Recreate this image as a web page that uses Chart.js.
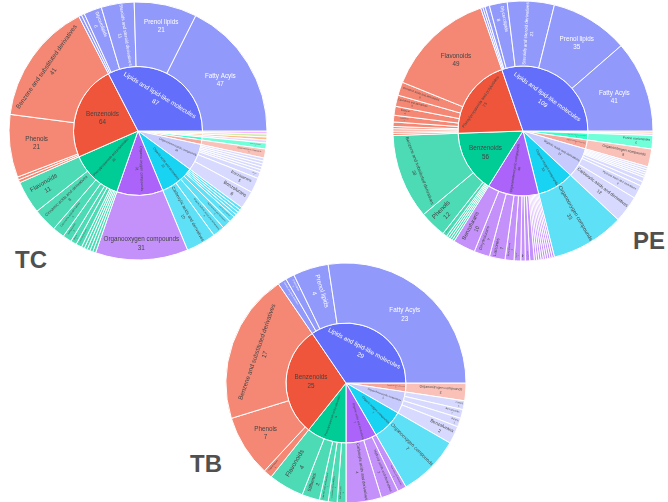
<!DOCTYPE html>
<html><head><meta charset="utf-8">
<script src="https://cdn.jsdelivr.net/npm/chart.js@4.4.1/dist/chart.umd.min.js"></script>
<style>
html,body{margin:0;padding:0;background:#fff;}
body{width:668px;height:502px;position:relative;overflow:hidden;}
.tag{position:absolute;font-family:"Liberation Sans",Arial,sans-serif;font-weight:bold;font-size:24px;line-height:24px;color:#505050;}
</style></head><body>
<div class="tag" style="left:15px;top:248px">TC</div>
<div class="tag" style="left:633px;top:229px">PE</div>
<div class="tag" style="left:190px;top:452px">TB</div>
<script>
// ---------------- DATA ----------------
const tcSuper = ['Lipids and lipid-like molecules','Benzenoids','Phenylpropanoids and polyketides','Organic oxygen compounds','Organic acids and derivatives','Organoheterocyclic compounds','Organic nitrogen compounds','Nucleosides, nucleotides, and analogues','Organosulfur compounds','Alkaloids and derivatives','Lignans, neolignans and related compounds','Organohalogen compounds'];
const tcSuperValues = [87,64,35,31,23,18,3,2,1,1,1,1];
const tcClasses = [
  ['Fatty Acyls','Prenol lipids','Steroids and steroid derivatives','Glycerolipids','Sphingolipids','Glycerophospholipids'],
  ['Benzene and substituted derivatives','Phenols','Naphthalenes','Anthracenes'],
  ['Flavonoids','Cinnamic acids and derivatives','Coumarins and derivatives','Isoflavonoids','Stilbenes','2-arylbenzofuran flavonoids','Linear 1,3-diarylpropanoids','Phenylpropanoic acids','Isocoumarins and derivatives','Cinnamaldehydes','Macrolides and analogues'],
  ['Organooxygen compounds'],
  ['Carboxylic acids and derivatives','Organic sulfuric acids and derivatives','Hydroxy acids and derivatives','Keto acids and derivatives','Organic carbonic acids and derivatives','Organic phosphoric acids and derivatives','Peptidomimetics','Organic sulfonic acids and derivatives'],
  ['Benzofurans','Benzopyrans','Furans','Pyrans','Lactones','Indoles and derivatives','Quinolines and derivatives','Dihydrofurans'],
  ['Organonitrogen compounds'],
  ['Purine nucleosides'],
  ['Thioethers'],
  ['Harmala alkaloids'],
  ['Aryltetralin lignans'],
  ['Halobenzenes']
];
const tcClassValues = [
  [47,21,11,6,1,1],
  [41,21,1,1],
  [11,8,4,3,2,2,1,1,1,1,1],
  [31],
  [10,4,3,2,1,1,1,1],
  [6,5,2,1,1,1,1,1],
  [3],[2],[1],[1],[1],[1]
];

const peSuper = ['Lipids and lipid-like molecules','Phenylpropanoids and polyketides','Benzenoids','Organoheterocyclic compounds','Organic oxygen compounds','Organic acids and derivatives','Organic nitrogen compounds','Nucleosides, nucleotides, and analogues','Organosulfur compounds','Alkaloids and derivatives'];
const peSuperValues = [109,73,56,46,33,27,8,6,1,1];
const peClasses = [
  ['Fatty Acyls','Prenol lipids','Steroids and steroid derivatives','Glycerolipids','Glycerophospholipids','Sphingolipids','Saccharolipids'],
  ['Flavonoids','Cinnamic acids and derivatives','Coumarins and derivatives','Stilbenes','Isoflavonoids','2-arylbenzofuran flavonoids','Linear 1,3-diarylpropanoids','Phenylpropanoic acids','Isocoumarins and derivatives','Macrolides and analogues'],
  ['Benzene and substituted derivatives','Phenols','Naphthalenes','Anthracenes','Phenol ethers','Fluorenes','Tetralins'],
  ['Benzofurans','Dihydrofurans','Lactones','Benzopyrans','Pyrans','Furans','Indoles and derivatives','Quinolines and derivatives','Oxanes','Piperidines','Pyridines and derivatives','Imidazopyrimidines','Tetrahydrofurans','Azoles','Pyrimidines and pyrimidine derivatives','Benzoxazines','Coumarans'],
  ['Organooxygen compounds'],
  ['Carboxylic acids and derivatives','Hydroxy acids and derivatives','Keto acids and derivatives','Organic sulfuric acids and derivatives','Organic carbonic acids and derivatives','Organic phosphoric acids and derivatives','Peptidomimetics','Organic sulfonic acids and derivatives','Organic thiophosphoric acids and derivatives'],
  ['Organonitrogen compounds'],
  ['Purine nucleosides'],
  ['Thioethers'],
  ['Harmala alkaloids']
];
const peClassValues = [
  [41,35,21,8,2,1,1],
  [49,6,5,4,3,2,1,1,1,1],
  [38,12,2,1,1,1,1],
  [10,7,7,4,3,2,2,2,1,1,1,1,1,1,1,1,1],
  [33],
  [12,6,2,2,1,1,1,1,1],
  [8],[6],[1],[1]
];

const tbSuper = ['Lipids and lipid-like molecules','Benzenoids','Phenylpropanoids and polyketides','Organic acids and derivatives','Organic oxygen compounds','Organoheterocyclic compounds','Organic nitrogen compounds'];
const tbSuperValues = [29,25,9,7,7,5,2];
const tbClasses = [
  ['Fatty Acyls','Prenol lipids','Glycerolipids','Steroids and steroid derivatives'],
  ['Benzene and substituted derivatives','Phenols','Naphthalenes'],
  ['Flavonoids','Stilbenes','Cinnamic acids and derivatives','Coumarins and derivatives','Isoflavonoids'],
  ['Carboxylic acids and derivatives','Hydroxy acids and derivatives','Keto acids and derivatives'],
  ['Organooxygen compounds'],
  ['Benzofurans','Pyrans','Benzodioxoles','Furans'],
  ['Organonitrogen compounds']
];
const tbClassValues = [
  [23,4,1,1],
  [17,7,1],
  [4,2,1,1,1],
  [4,2,1],
  [7],
  [2,1,1,1],
  [2]
];

// ---------------- STYLE ----------------
const tcColors = ['#636efa','#ef553b','#00cc96','#ab63fa','#19d3f3','#c6cafd','#f7a799','#33ffc9','#e2c1fd','#ffa15a','#b6e880','#ff97ff'];
const peColors = ['#636efa','#ef553b','#00cc96','#ab63fa','#19d3f3','#c6cafd','#f7a799','#33ffc9','#e2c1fd','#ffa15a'];
const tbColors = ['#636efa','#ef553b','#00cc96','#ab63fa','#19d3f3','#c6cafd','#f7a799'];

const FONT = '"Liberation Sans", Arial, sans-serif';
const BASE = 6.3;
const LH = 1.3;

function rgb(h){ h=h.replace('#',''); return [parseInt(h.slice(0,2),16),parseInt(h.slice(2,4),16),parseInt(h.slice(4,6),16)]; }
function leaf(h){ const c=rgb(h); return 'rgba('+c[0]+','+c[1]+','+c[2]+',0.7)'; }
function textCol(h){ const c=rgb(h); return (c[0]*299+c[1]*587+c[2]*114)/1000 >= 128 ? '#444444' : '#ffffff'; }

function fitText(ctx, p, lines) {
  ctx.font = BASE + 'px ' + FONT;
  const w = Math.max.apply(null, lines.map(l => ctx.measureText(l).width));
  const h = lines.length * BASE * LH;
  const span = p.endAngle - p.startAngle;
  if (!(span > 0)) return null;
  const mid = (p.startAngle + p.endAngle) / 2;
  const ri = p.innerRadius, ro = p.outerRadius;
  const up = a => { while (a > Math.PI/2) a -= Math.PI; while (a <= -Math.PI/2) a += Math.PI; return a; };
  const orients = [0, up(mid + Math.PI/2), up(mid)];
  const pad = 1.0;
  const full = span >= 2*Math.PI - 1e-6;
  function inside(px, py) {
    const dx = px - p.x, dy = py - p.y;
    const r = Math.hypot(dx, dy);
    if (r > ro - pad || r < ri + pad) return false;
    if (full) return true;
    let a = Math.atan2(dy, dx) - p.startAngle;
    a = ((a % (2*Math.PI)) + 2*Math.PI) % (2*Math.PI);
    const m = pad / Math.max(r, 0.001);
    return a >= m && a <= span - m;
  }
  function fits(cx, cy, rot, s) {
    const hw = w*s/2, hh = h*s/2;
    const c = Math.cos(rot), sn = Math.sin(rot);
    const N = 6;
    for (let k=0;k<=N;k++){
      const t = -1 + 2*k/N;
      const pts = [[t*hw,-hh],[t*hw,hh],[-hw,t*hh],[hw,t*hh]];
      for (const q of pts) {
        if (!inside(cx + q[0]*c - q[1]*sn, cy + q[0]*sn + q[1]*c)) return false;
      }
    }
    return true;
  }
  const results = [];
  for (let oi=0; oi<3; oi++) {
    const rot = orients[oi];
    let best = {s:0};
    const steps = 12;
    for (let k=1;k<steps;k++){
      const rc = ri + (ro-ri)*k/steps;
      const px = p.x + rc*Math.cos(mid), py = p.y + rc*Math.sin(mid);
      if (!fits(px,py,rot,0.01)) continue;
      let lo=0.01, hi=3;
      for (let it=0; it<14; it++){ const m=(lo+hi)/2; if (fits(px,py,rot,m)) lo=m; else hi=m; }
      if (lo > best.s + 1e-4) best = {s:lo, px:px, py:py, rot:rot};
    }
    results.push(best);
  }
  let pick;
  if (results[0].s >= 1) pick = results[0];
  else pick = results.reduce((a,b)=> b.s > a.s ? b : a);
  if (!pick || pick.s <= 0) return null;
  return {px:pick.px, py:pick.py, rot:pick.rot, size: BASE*Math.min(pick.s,1)};
}

const sunText = {
  id: 'sunText',
  afterDatasetsDraw(chart) {
    const ctx = chart.ctx;
    chart.data.datasets.forEach((ds, di) => {
      const meta = chart.getDatasetMeta(di);
      meta.data.forEach((arc, i) => {
        const p = arc.getProps(['x','y','startAngle','endAngle','innerRadius','outerRadius'], true);
        const lines = [ds.names[i], String(ds.data[i])];
        const f = fitText(ctx, p, lines);
        if (!f || f.size < 0.8) return;
        ctx.save();
        ctx.translate(f.px, f.py);
        ctx.rotate(f.rot);
        ctx.font = f.size + 'px ' + FONT;
        ctx.fillStyle = ds.textColors[i];
        ctx.textAlign = 'center';
        ctx.textBaseline = 'middle';
        lines.forEach((ln, k) => ctx.fillText(ln, 0, (k - (lines.length-1)/2) * f.size * LH));
        ctx.restore();
      });
    });
  }
};

function sunburst(cx, cy, R, sup, supVals, classes, classVals, colors) {
  const inN=[], inV=[], inB=[], inT=[], outN=[], outV=[], outB=[], outT=[];
  sup.forEach((s,i)=>{
    inN.push(s); inV.push(supVals[i]); inB.push(colors[i]); inT.push(textCol(colors[i]));
    classes[i].forEach((c,j)=>{ outN.push(c); outV.push(classVals[i][j]); outB.push(leaf(colors[i])); outT.push(textCol(colors[i])); });
  });
  const rev = a => a.slice().reverse();   // Plotly lays out counter-clockwise from 3 o'clock
  const S = 2*R + 6;
  const cv = document.createElement('canvas');
  cv.width = S; cv.height = S;
  cv.style.cssText = 'position:absolute;left:'+(cx - S/2)+'px;top:'+(cy - S/2)+'px;width:'+S+'px;height:'+S+'px;';
  document.body.appendChild(cv);
  new Chart(cv, {
    type: 'pie',
    data: {
      labels: rev(outN),
      datasets: [
        {data: rev(outV), names: rev(outN), backgroundColor: rev(outB), textColors: rev(outT), borderColor:'#ffffff', borderWidth:1},
        {data: rev(inV), names: rev(inN), backgroundColor: rev(inB), textColors: rev(inT), borderColor:'#ffffff', borderWidth:1}
      ]
    },
    options: {
      responsive:false, animation:false, events:[],
      rotation: 90, radius: R,
      layout:{padding:0},
      plugins:{legend:{display:false}, tooltip:{enabled:false}}
    },
    plugins:[sunText]
  });
}

sunburst(138, 131, 129, tcSuper, tcSuperValues, tcClasses, tcClassValues, tcColors);
sunburst(523, 131, 130, peSuper, peSuperValues, peClasses, peClassValues, peColors);
sunburst(346, 383, 120, tbSuper, tbSuperValues, tbClasses, tbClassValues, tbColors);
</script>
</body></html>
